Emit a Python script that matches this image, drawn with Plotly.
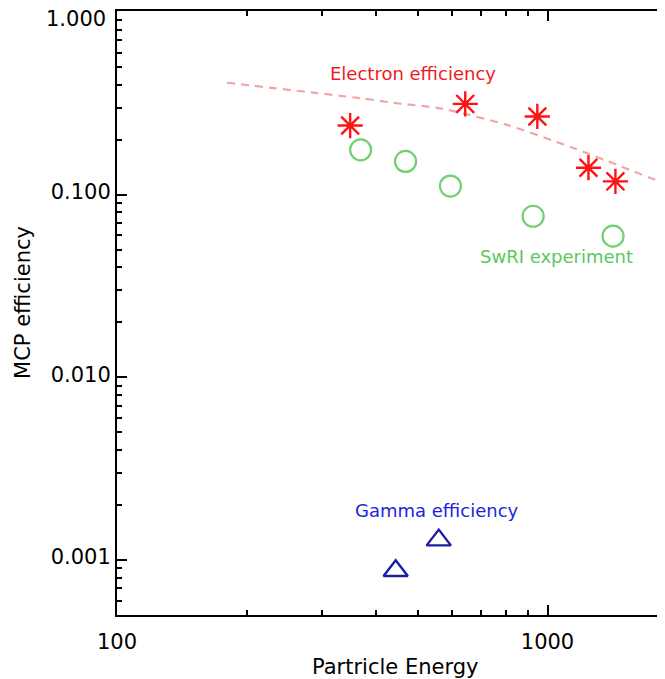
import numpy as np
import plotly.graph_objects as go

# ---- data ----
electron_energy = [348, 644, 947, 1245, 1438]
electron_eff = [0.239, 0.314, 0.268, 0.1405, 0.1183]

swri_energy = [368, 468, 595, 926, 1420]
swri_eff = [0.176, 0.152, 0.1115, 0.0762, 0.0593]

gamma_energy = [444, 559]
gamma_eff = [0.000874, 0.001285]

curve_energy = [180, 369, 447, 564, 806, 1149, 1858]
curve_eff = [0.410, 0.337, 0.3165, 0.297, 0.241, 0.180, 0.1158]

x_tickvals = [100, 1000]
x_ticktext = ["100", "1000"]
x_minor = [200, 300, 400, 500, 600, 700, 800, 900, 2000, 3000]
y_tickvals = [0.001, 0.01, 0.1, 1.0]
y_ticktext = ["0.001", "0.010", "0.100", ""]
y_top_label = "1.000"
y_minor = [0.0005, 0.0006, 0.0007, 0.0008, 0.0009,
           0.002, 0.003, 0.004, 0.005, 0.006, 0.007, 0.008, 0.009,
           0.02, 0.03, 0.04, 0.05, 0.06, 0.07, 0.08, 0.09,
           0.2, 0.3, 0.4, 0.5, 0.6, 0.7, 0.8, 0.9]

FONT = "DejaVu Sans"
RED = "#ff1414"
GREEN = "#72cf72"
BLUE = "#1c1ca6"

fig = go.Figure()
fig.add_trace(go.Scatter(x=curve_energy, y=curve_eff, mode="lines",
                         line=dict(color="#f4a4a4", width=2.2, dash="8px,6px",
                                   shape="spline", smoothing=0.6),
                         showlegend=False, hoverinfo="skip"))
fig.add_trace(go.Scatter(x=electron_energy, y=electron_eff, mode="markers",
                         marker=dict(symbol="asterisk-open", size=21, color=RED,
                                     line=dict(color=RED, width=2.4)),
                         showlegend=False))
fig.add_trace(go.Scatter(x=swri_energy, y=swri_eff, mode="markers",
                         marker=dict(symbol="circle-open", size=21, color=GREEN,
                                     line=dict(color=GREEN, width=2.2)),
                         showlegend=False))
fig.add_trace(go.Scatter(x=gamma_energy, y=gamma_eff, mode="markers",
                         marker=dict(symbol="triangle-up-open", size=21, color=BLUE,
                                     line=dict(color=BLUE, width=2.4)),
                         showlegend=False))

annots = [
    dict(x=np.log10(486), y=np.log10(0.4595), text="Electron efficiency",
         font=dict(color="#ec1c24", size=18, family=FONT)),
    dict(x=np.log10(1051), y=np.log10(0.0461), text="SwRI experiment",
         font=dict(color="#5cc85c", size=18, family=FONT)),
    dict(x=np.log10(555), y=np.log10(0.001874), text="Gamma efficiency",
         font=dict(color="#2424dc", size=18, family=FONT)),
]
for a in annots:
    fig.add_annotation(xref="x", yref="y", showarrow=False,
                       xanchor="center", yanchor="middle", **a)

# top y tick label placed just below the frame, as in the reference
fig.add_annotation(xref="paper", yref="paper", x=-0.0164, y=0.9868,
                   xanchor="right", yanchor="middle", text=y_top_label,
                   showarrow=False, font=dict(size=21, family=FONT, color="black"))

# axis titles
fig.add_annotation(xref="paper", yref="paper", x=0.508, y=-0.0861,
                   xanchor="center", yanchor="middle",
                   text="Partricle Energy", showarrow=False,
                   font=dict(size=21, family=FONT, color="black"))
fig.add_annotation(xref="paper", yref="paper", x=-0.1715, y=0.5166,
                   xanchor="center", yanchor="middle",
                   text="MCP efficiency", showarrow=False, textangle=-90,
                   font=dict(size=21, family=FONT, color="black"))

fig.update_xaxes(type="log", range=[2, 2 + 548 / 430.5], automargin=False,
                 tickmode="array", tickvals=x_tickvals, ticktext=x_ticktext,
                 ticks="inside", ticklen=10, tickwidth=1.5, tickcolor="black",
                 showline=True, linecolor="black", linewidth=2, mirror="ticks",
                 showgrid=False, zeroline=False, ticklabelstandoff=7,
                 tickfont=dict(size=21, family=FONT, color="black"),
                 minor=dict(tickmode="array", tickvals=x_minor, ticks="inside",
                            ticklen=5, tickwidth=1.5, tickcolor="black", showgrid=False))
fig.update_yaxes(type="log", range=[np.log10(0.0005), 0.0055], automargin=False,
                 tickmode="array", tickvals=y_tickvals, ticktext=y_ticktext,
                 ticks="inside", ticklen=10, tickwidth=1.5, tickcolor="black",
                 showline=True, linecolor="black", linewidth=2, mirror=False,
                 showgrid=False, zeroline=False, ticklabelstandoff=0,
                 ticklabelshift=-3, ticklabeloverflow="allow",
                 tickfont=dict(size=21, family=FONT, color="black"),
                 minor=dict(tickmode="array", tickvals=y_minor, ticks="inside",
                            ticklen=5, tickwidth=1.5, tickcolor="black", showgrid=False))

# page body has an 8px margin; figure sized so plot area lands where the reference has it
fig.update_layout(width=657, height=671,
                  margin=dict(l=109, r=0, t=3, b=64, autoexpand=False),
                  paper_bgcolor="white", plot_bgcolor="white",
                  showlegend=False)

fig.write_html("out.html")
